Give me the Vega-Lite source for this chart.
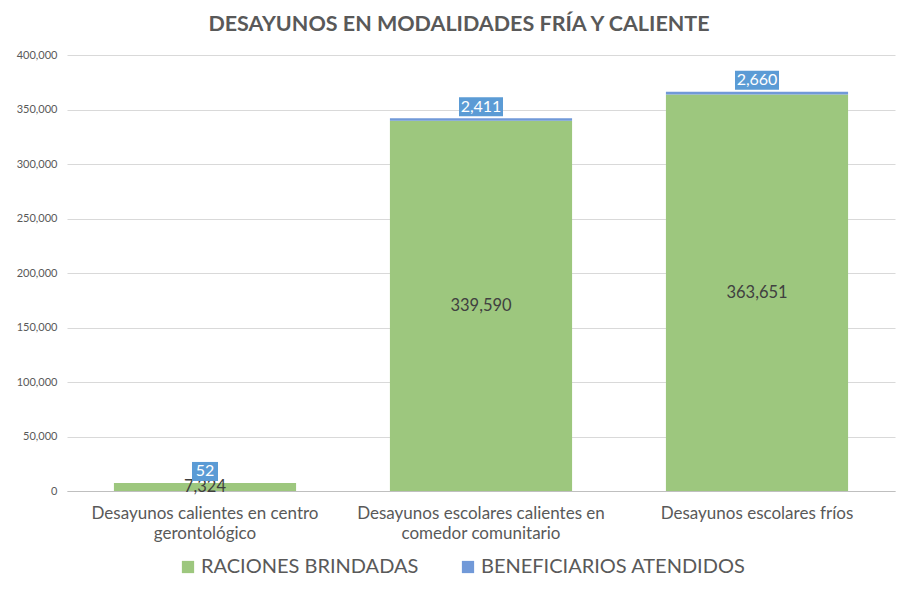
{
  "$schema": "https://vega.github.io/schema/vega-lite/v6.json",
  "autosize": {"type": "none"},
  "width": 828,
  "height": 436,
  "padding": {"left": 67, "top": 55, "right": 5, "bottom": 98},
  "background": "white",
  "title": {
    "text": "DESAYUNOS EN MODALIDADES FRÍA Y CALIENTE",
    "font": "Lato",
    "fontSize": 21.5,
    "fontWeight": "bold",
    "color": "#595959",
    "anchor": "middle",
    "dx": -22,
    "offset": 14
  },
  "config": {
    "font": "Lato",
    "view": {"stroke": null}
  },
  "data": {
    "values": [
      {"cat": "Desayunos calientes en centro gerontológico", "serie": "RACIONES BRINDADAS", "valor": 7324},
      {"cat": "Desayunos calientes en centro gerontológico", "serie": "BENEFICIARIOS ATENDIDOS", "valor": 52},
      {"cat": "Desayunos escolares calientes en comedor comunitario", "serie": "RACIONES BRINDADAS", "valor": 339590},
      {"cat": "Desayunos escolares calientes en comedor comunitario", "serie": "BENEFICIARIOS ATENDIDOS", "valor": 2411},
      {"cat": "Desayunos escolares fríos", "serie": "RACIONES BRINDADAS", "valor": 363651},
      {"cat": "Desayunos escolares fríos", "serie": "BENEFICIARIOS ATENDIDOS", "valor": 2660}
    ]
  },
  "transform": [
    {"stack": "valor", "groupby": ["cat"], "sort": [{"field": "serie", "order": "descending"}], "as": ["v0", "v1"]},
    {"calculate": "6 * length(format(datum.valor, ',')) + 14", "as": "w"}
  ],
  "encoding": {
    "x": {
      "field": "cat",
      "type": "nominal",
      "sort": null,
      "scale": {"paddingInner": 0.34, "paddingOuter": 0.17},
      "axis": {
        "title": null,
        "labelAngle": 0,
        "labelFontSize": 17,
        "labelColor": "#595959",
        "labelPadding": 14,
        "labelLineHeight": 20,
        "labelLimit": 0,
        "ticks": false,
        "domainColor": "#bfbfbf",
        "labelExpr": "datum.value == 'Desayunos calientes en centro gerontológico' ? ['Desayunos calientes en centro', 'gerontológico'] : datum.value == 'Desayunos escolares calientes en comedor comunitario' ? ['Desayunos escolares calientes en', 'comedor comunitario'] : datum.value"
      }
    }
  },
  "layer": [
    {
      "mark": {"type": "bar"},
      "encoding": {
        "y": {
          "field": "v0",
          "type": "quantitative",
          "scale": {"domain": [0, 400000]},
          "axis": {
            "title": null,
            "values": [0, 50000, 100000, 150000, 200000, 250000, 300000, 350000, 400000],
            "labelExpr": "format(datum.value, ',')",
            "labelFontSize": 11,
            "labelColor": "#595959",
            "labelPadding": 10,
            "ticks": false,
            "domain": false,
            "gridColor": "#d9d9d9"
          }
        },
        "y2": {"field": "v1"},
        "color": {
          "field": "serie",
          "type": "nominal",
          "scale": {"domain": ["RACIONES BRINDADAS", "BENEFICIARIOS ATENDIDOS"], "range": ["#9DC77E", "#7199D8"]},
          "legend": {
            "title": null,
            "orient": "none",
            "direction": "horizontal",
            "legendX": 111,
            "legendY": 502,
            "symbolType": "square",
            "symbolSize": 150,
            "symbolStrokeWidth": 0,
            "labelFontSize": 20,
            "labelLimit": 0,
            "labelColor": "#595959",
            "columnPadding": 39,
            "labelOffset": 3
          }
        }
      }
    },
    {
      "transform": [{"filter": "datum.serie == 'RACIONES BRINDADAS'"}],
      "mark": {"type": "text", "fontSize": 16.5, "color": "#404040"},
      "encoding": {
        "y": {"field": "valor", "type": "quantitative", "stack": "zero", "bandPosition": 0.5},
        "text": {"field": "valor", "type": "quantitative", "format": ","}
      }
    },
    {
      "transform": [{"filter": "datum.serie == 'BENEFICIARIOS ATENDIDOS'"}],
      "mark": {"type": "bar", "color": "#5B9BD5", "yOffset": -21, "y2Offset": -2},
      "encoding": {
        "y": {"field": "v1", "type": "quantitative"},
        "y2": {"field": "v1"},
        "size": {"field": "w", "type": "quantitative", "scale": null, "legend": null}
      }
    },
    {
      "transform": [{"filter": "datum.serie == 'BENEFICIARIOS ATENDIDOS'"}],
      "mark": {"type": "text", "fontSize": 16, "color": "white", "yOffset": -11.5},
      "encoding": {
        "y": {"field": "v1", "type": "quantitative"},
        "text": {"field": "valor", "type": "quantitative", "format": ","}
      }
    }
  ]
}
